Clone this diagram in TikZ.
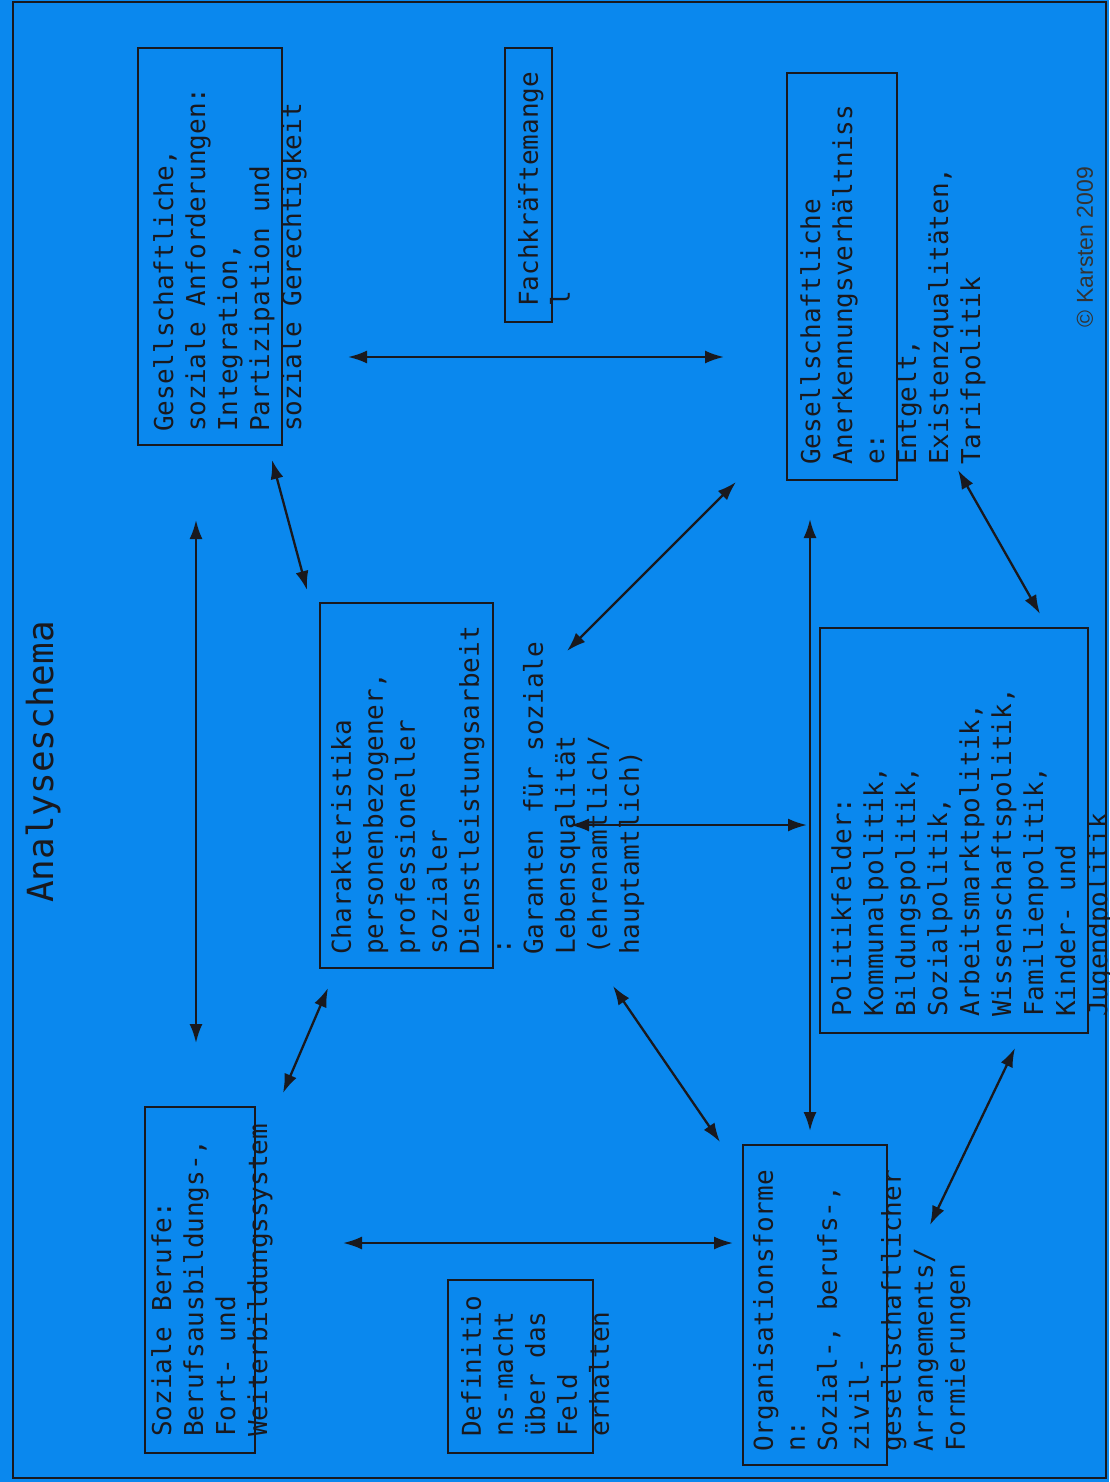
\documentclass[tikz,border=0pt]{standalone}
\usepackage{fontspec}
\setmonofont{DejaVu Sans Mono}
\newfontfamily\copyfont{Liberation Sans}
\usetikzlibrary{arrows.meta}
\definecolor{bg}{RGB}{10,136,238}
\definecolor{ink}{RGB}{25,25,30}
\begin{document}
\begin{tikzpicture}[x=1pt,y=-1pt,
  box/.style={draw=ink, line width=2.4pt, inner sep=0pt, rectangle},
  txt/.style={rotate=90, anchor=north west, inner sep=0pt, align=left, text=ink,
    font=\fontsize{26}{32}\selectfont\ttfamily},
  biarrow/.style={draw=ink, line width=2.3pt,
    {Latex[length=19pt,width=13pt]}-{Latex[length=19pt,width=13pt]}}]
\useasboundingbox (0,0) rectangle (1109,1482);
\fill[bg] (0,0) rectangle (1109,1482);
\draw[ink, line width=2.5pt] (13,2) rectangle (1106,1478);

% title and copyright
\node[rotate=90, text=ink, font=\fontsize{36}{40}\selectfont\ttfamily] (title) at (43,762) {Analyseschema};
\node[rotate=90, text=black!80, font=\fontsize{23}{25}\selectfont\copyfont] (copy) at (1085,247) {© Karsten 2009};

% boxes
\node[box, minimum width=144pt, minimum height=397pt] (A) at (210,246.5) {};
\node[box, minimum width=47pt, minimum height=274pt] (B) at (528.5,185) {};
\node[box, minimum width=110pt, minimum height=407pt] (C) at (842,276.5) {};
\node[box, minimum width=173pt, minimum height=365pt] (D) at (406.5,785.5) {};
\node[box, minimum width=268pt, minimum height=405pt] (E) at (954,830.5) {};
\node[box, minimum width=110pt, minimum height=346pt] (F) at (200,1280) {};
\node[box, minimum width=145pt, minimum height=173pt] (G) at (520.5,1366.5) {};
\node[box, minimum width=144pt, minimum height=320pt] (H) at (815,1305) {};

% texts
\node[txt] (tA) at (153,432) {Gesellschaftliche,\\soziale Anforderungen:\\Integration,\\Partizipation und\\soziale Gerechtigkeit};
\node[txt] (tB) at (518,307) {Fachkräftemange\\l};
\node[txt] (tC) at (800,465) {Gesellschaftliche\\Anerkennungsverhältniss\\e:\\Entgelt,\\Existenzqualitäten,\\Tarifpolitik};
\node[txt] (tD) at (331,955) {Charakteristika\\personenbezogener,\\professioneller\\sozialer\\Dienstleistungsarbeit\\:\\Garanten für soziale\\Lebensqualität\\(ehrenamtlich/\\hauptamtlich)};
\node[txt] (tE) at (831,1017) {Politikfelder:\\Kommunalpolitik,\\Bildungspolitik,\\Sozialpolitik,\\Arbeitsmarktpolitik,\\Wissenschaftspolitik,\\Familienpolitik,\\Kinder- und\\Jugendpolitik};
\node[txt] (tF) at (151,1437) {Soziale Berufe:\\Berufsausbildungs-,\\Fort- und\\Weiterbildungssystem};
\node[txt] (tG) at (461,1437) {Definitio\\ns-macht\\über das\\Feld\\erhalten};
\node[txt] (tH) at (753,1452) {Organisationsforme\\n:\\Sozial-, berufs-,\\zivil-\\gesellschaftlicher\\Arrangements/\\Formierungen};

% arrow end points
\coordinate (p1a) at (348,357);  \coordinate (p1b) at (724,357);
\coordinate (p2a) at (272,460);  \coordinate (p2b) at (307,590);
\coordinate (p3a) at (196,520);  \coordinate (p3b) at (196,1043);
\coordinate (p4a) at (283,1093); \coordinate (p4b) at (328,988);
\coordinate (p5a) at (567,651);  \coordinate (p5b) at (736,482);
\coordinate (p6a) at (958,470);  \coordinate (p6b) at (1040,614);
\coordinate (p7a) at (570,825);  \coordinate (p7b) at (807,825);
\coordinate (p8a) at (810,519);  \coordinate (p8b) at (810,1131);
\coordinate (p9a) at (613,986);  \coordinate (p9b) at (720,1142);
\coordinate (p10a) at (343,1243); \coordinate (p10b) at (733,1243);
\coordinate (p11a) at (930,1225); \coordinate (p11b) at (1015,1048);

\draw[biarrow] (p1a) -- (p1b);
\draw[biarrow] (p2a) -- (p2b);
\draw[biarrow] (p3a) -- (p3b);
\draw[biarrow] (p4a) -- (p4b);
\draw[biarrow] (p5a) -- (p5b);
\draw[biarrow] (p6a) -- (p6b);
\draw[biarrow] (p7a) -- (p7b);
\draw[biarrow] (p8a) -- (p8b);
\draw[biarrow] (p9a) -- (p9b);
\draw[biarrow] (p10a) -- (p10b);
\draw[biarrow] (p11a) -- (p11b);
\end{tikzpicture}
\end{document}
